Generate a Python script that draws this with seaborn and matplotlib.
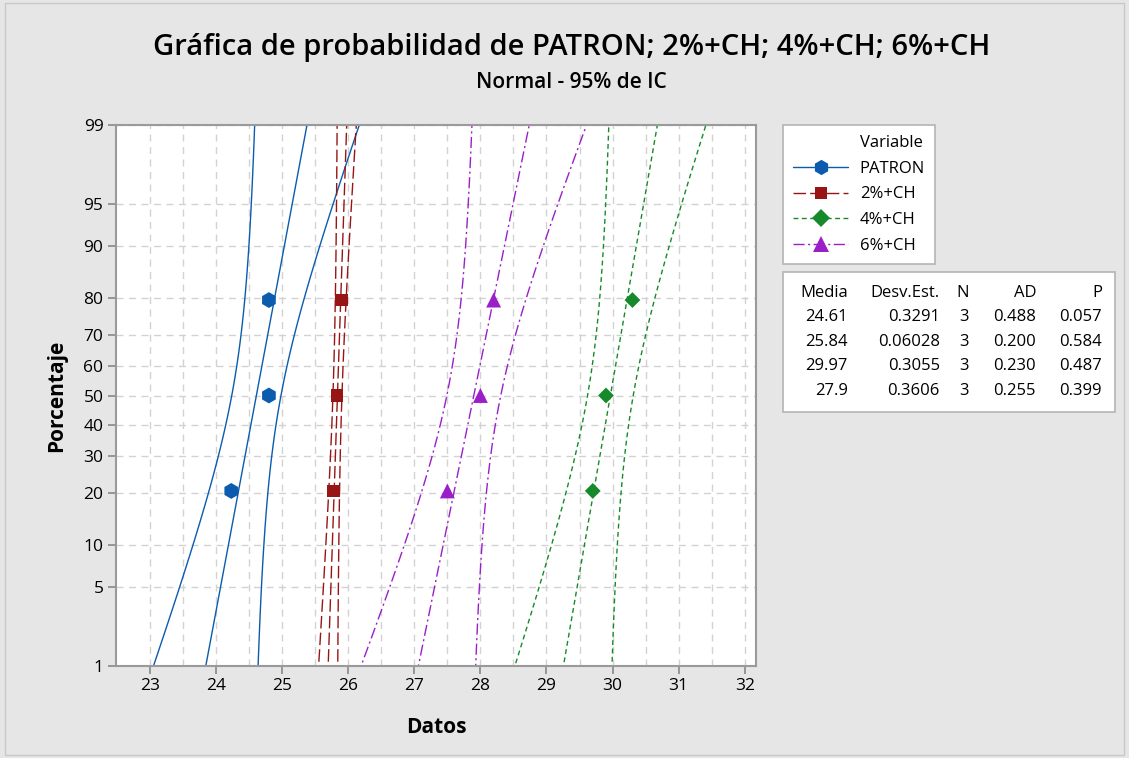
import numpy as np
import pandas as pd
import matplotlib
matplotlib.use("Agg")
import matplotlib.pyplot as plt
import seaborn as sns
from matplotlib.lines import Line2D
from matplotlib.patches import Rectangle
from statistics import NormalDist

# data (3 readings per series)
variables = ["PATRON", "2%+CH", "4%+CH", "6%+CH"]
patron = [24.23, 24.80, 24.80]
ch2 = [25.78, 25.83, 25.90]
ch4 = [29.70, 29.90, 30.30]
ch6 = [27.50, 28.00, 28.20]

pct_ticks = [1, 5, 10, 20, 30, 40, 50, 60, 70, 80, 90, 95, 99]
x_ticks = list(range(23, 33))

stats_header = ["Media", "Desv.Est.", "N", "AD", "P"]
stats_rows = [
    ["24.61", "0.3291", "3", "0.488", "0.057"],
    ["25.84", "0.06028", "3", "0.200", "0.584"],
    ["29.97", "0.3055", "3", "0.230", "0.487"],
    ["27.9", "0.3606", "3", "0.255", "0.399"],
]

colors = {"PATRON": "#0B5BAE", "2%+CH": "#981515", "4%+CH": "#168A2A", "6%+CH": "#9A1FC8"}
dashes = {"PATRON": "", "2%+CH": (9, 3), "4%+CH": (3.5, 2.5), "6%+CH": (8, 2.5, 1.5, 2.5)}
markers = {"PATRON": "h", "2%+CH": "s", "4%+CH": "D", "6%+CH": "^"}
msizes = {"PATRON": 130, "2%+CH": 85, "4%+CH": 65, "6%+CH": 115}

nd = NormalDist()
series = dict(zip(variables, [patron, ch2, ch4, ch6]))

# fitted normal line + 95% CI bands, plus plotting positions of the points
z = np.linspace(nd.inv_cdf(0.005), nd.inv_cdf(0.995), 80)
curves, points = [], []
for name, vals in series.items():
    v = np.sort(np.array(vals))
    n = len(v)
    m, s = v.mean(), v.std(ddof=1)
    half = 1.96 * s * np.sqrt((1 + 0.65 * z ** 2) / n)
    for part, xs in [("fit", m + s * z), ("lo", m + s * z - half), ("hi", m + s * z + half)]:
        curves.append(pd.DataFrame({"Variable": name, "curve": name + part, "x": xs, "z": z}))
    pp = [(i - 0.3) / (n + 0.4) for i in range(1, n + 1)]
    points.append(pd.DataFrame({"Variable": name, "x": v, "z": [nd.inv_cdf(p) for p in pp]}))
curves = pd.concat(curves, ignore_index=True)
points = pd.concat(points, ignore_index=True)

sns.set_theme(style="white")
plt.rcParams["font.family"] = ["Open Sans", "DejaVu Sans"]
plt.rcParams.update({"text.color": "black", "axes.labelcolor": "black",
                     "xtick.color": "black", "ytick.color": "black"})

fig = plt.figure(figsize=(11.29, 7.58), dpi=100, facecolor="#E6E6E6")
ax = fig.add_axes([116 / 1129, 1 - 666 / 758, 640 / 1129, 541 / 758])
ax.set_facecolor("white")

sns.lineplot(data=curves, x="x", y="z", hue="Variable", style="Variable", units="curve",
             estimator=None, sort=False, palette=colors, dashes=dashes, lw=1.0,
             legend=False, ax=ax)
sns.scatterplot(data=points, x="x", y="z", hue="Variable", style="Variable",
                markers=markers, palette=colors, size="Variable", sizes=msizes,
                edgecolor="none", legend=False, ax=ax, zorder=5)

ax.set_xlim(22.486, 32.17)
ax.set_ylim(nd.inv_cdf(0.01), nd.inv_cdf(0.99))
ax.set_xticks(x_ticks)
ax.set_xticks(np.arange(23.5, 32, 1.0), minor=True)
ax.set_yticks([nd.inv_cdf(p / 100) for p in pct_ticks])
ax.set_yticklabels([str(p) for p in pct_ticks])
ax.tick_params(axis="both", which="major", labelsize=12.5, length=6, color="#8C8C8C",
               bottom=True, left=True, direction="out", pad=3)
ax.tick_params(axis="x", which="minor", length=0)
ax.grid(True, which="both", axis="x", color="#D2D2D2", ls=(0, (5, 4)), lw=1)
ax.grid(True, which="major", axis="y", color="#D2D2D2", ls=(0, (5, 4)), lw=1)
for sp in ax.spines.values():
    sp.set_color("#9A9A9A")
    sp.set_linewidth(1.5)
ax.set_xlabel("Datos", fontsize=15, fontweight="bold", labelpad=16)
ax.set_ylabel("Porcentaje", fontsize=15, fontweight="bold", labelpad=12)

fig.text(0.506, 1 - 47 / 758, "Gráfica de probabilidad de PATRON; 2%+CH; 4%+CH; 6%+CH",
         ha="center", va="center", fontsize=21, fontweight="semibold")
fig.text(0.506, 1 - 82 / 758, "Normal - 95% de IC", ha="center", va="center", fontsize=15,
         fontweight="semibold")

# legend: "Variable" as a blank first row so it lines up with the labels
handles = [Line2D([], [], lw=0)]
handles += [Line2D([], [], color=colors[v], dashes=dashes[v] if dashes[v] else (None, None),
                   lw=1.0, marker=markers[v], markersize=11 if v in ("PATRON", "6%+CH") else 9,
                   markeredgewidth=0)
            for v in variables]
leg = fig.legend(handles, ["Variable"] + variables, loc="upper left",
                 bbox_to_anchor=(783 / 1129, 1 - 125 / 758), fontsize=12,
                 frameon=True, fancybox=False, edgecolor="#B4B4B4", framealpha=1,
                 handlelength=3.3, handletextpad=0.7, borderpad=0.6, labelspacing=0.58,
                 borderaxespad=0)
leg.get_frame().set_linewidth(1.2)

# statistics table
fig.patches.append(Rectangle((783 / 1129, 1 - 412 / 758), 332 / 1129, 140 / 758,
                             transform=fig.transFigure, facecolor="white",
                             edgecolor="#B4B4B4", lw=1.2))
col_right = [848, 940, 969, 1036, 1102]
row_y = [293, 317, 342, 366, 391]
for j, h in enumerate(stats_header):
    fig.text(col_right[j] / 1129, 1 - row_y[0] / 758, h, ha="right", va="center", fontsize=12)
for i, row in enumerate(stats_rows):
    for j, cell in enumerate(row):
        fig.text(col_right[j] / 1129, 1 - row_y[i + 1] / 758, cell, ha="right", va="center",
                 fontsize=12)

fig.patches.append(Rectangle((0.004, 0.004), 0.992, 0.992, transform=fig.transFigure,
                             facecolor="none", edgecolor="#C8C8C8", lw=1))

fig.savefig("out.png", dpi=100, facecolor=fig.get_facecolor())
